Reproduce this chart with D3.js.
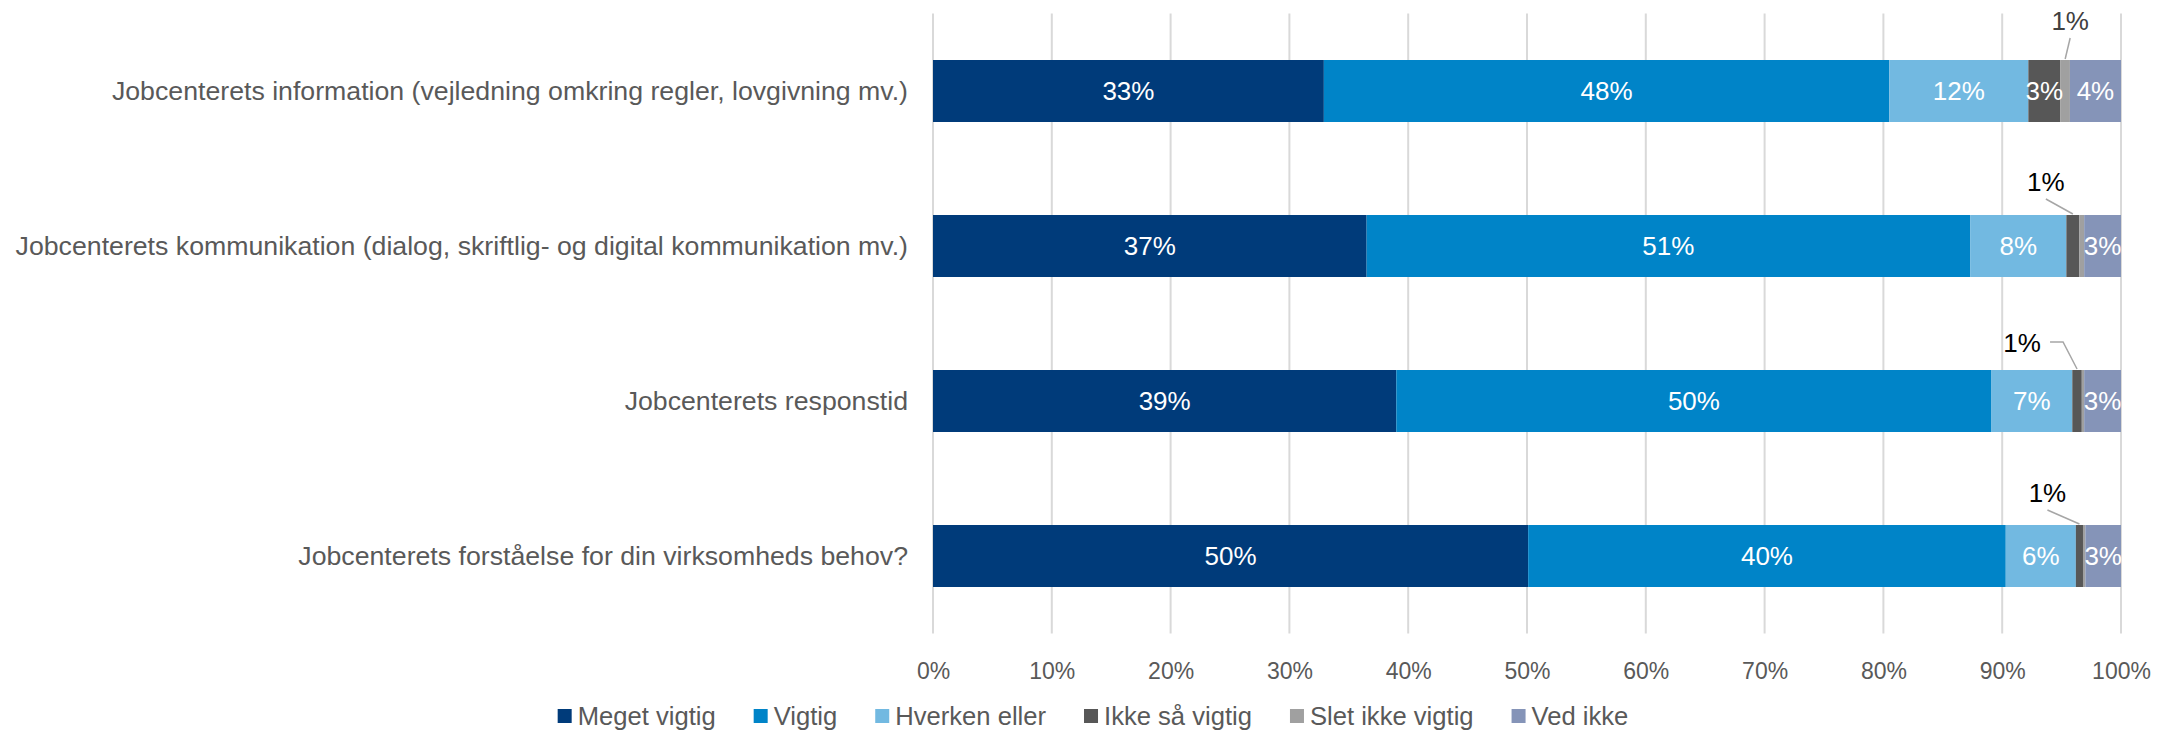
<!DOCTYPE html>
<html>
<head>
<meta charset="utf-8">
<script src="https://cdn.jsdelivr.net/npm/d3@7"></script>
<style>
  body { margin: 0; background: #fff; }
  text { font-family: "Liberation Sans", Arial, sans-serif; }
</style>
</head>
<body>
<div id="chart"></div>
<script>
// data (percent)
const categories = [
  "Jobcenterets information (vejledning omkring regler, lovgivning mv.)",
  "Jobcenterets kommunikation (dialog, skriftlig- og digital kommunikation mv.)",
  "Jobcenterets responstid",
  "Jobcenterets forståelse for din virksomheds behov?"
];
const seriesNames = ["Meget vigtig", "Vigtig", "Hverken eller", "Ikke så vigtig", "Slet ikke vigtig", "Ved ikke"];
const megetVigtig = [32.9, 36.5, 39.0, 50.1];
const vigtig      = [47.6, 50.8, 50.1, 40.2];
const hverken     = [11.7, 8.1, 6.8, 5.9];
const ikkeSaa     = [2.7, 1.1, 0.8, 0.6];
const sletIkke    = [0.8, 0.4, 0.2, 0.2];
const vedIkke     = [4.3, 3.1, 3.1, 3.0];
const xTicks = [0, 10, 20, 30, 40, 50, 60, 70, 80, 90, 100];

const colors = ["#003b7a", "#0084c8", "#72b9e1", "#575757", "#a0a0a0", "#8594b8"];
// where the small callout labels sit, relative to the segment (one per bar)
const calloutOffsets = [{dx: 5, dy: -39}, {dx: -27, dy: -33}, {dx: -55, dy: -27}, {dx: -32, dy: -32}];

const width = 2174, height = 730;
const series = [megetVigtig, vigtig, hverken, ikkeSaa, sletIkke, vedIkke];

// rows for d3.stack
const rows = categories.map(function (c, i) {
  const r = { cat: c };
  seriesNames.forEach(function (s, j) { r[s] = series[j][i]; });
  return r;
});
const stacked = d3.stack().keys(seriesNames)(rows);

const svg = d3.select("#chart").append("svg")
  .attr("width", width).attr("height", height);

const x = d3.scaleLinear().domain([0, 100]).range([933, 2121]);
const y = d3.scaleBand().domain(categories).range([13.5, 633.5])
  .paddingInner(0.6).paddingOuter(0.3);

// gridlines
svg.append("g").selectAll("line").data(xTicks).enter().append("line")
  .attr("x1", d => x(d)).attr("x2", d => x(d))
  .attr("y1", 13.5).attr("y2", 633.5)
  .attr("stroke", "#d9d9d9").attr("stroke-width", 2);

// x axis labels
const xAxis = d3.axisBottom(x).tickValues(xTicks).tickFormat(d => d + "%").tickSize(0).tickPadding(0);
const gx = svg.append("g").attr("transform", "translate(0,663)").call(xAxis);
gx.select(".domain").remove();
gx.selectAll("text").attr("font-size", 23).attr("fill", "#595959")
  .attr("font-family", "Liberation Sans, Arial, sans-serif");

// category labels
const yAxis = d3.axisLeft(y).tickSize(0).tickPadding(0);
const gy = svg.append("g").attr("transform", "translate(908,0)").call(yAxis);
gy.select(".domain").remove();
gy.selectAll("text").attr("font-size", 26.7).attr("fill", "#595959")
  .attr("font-family", "Liberation Sans, Arial, sans-serif");

// bars
const layers = svg.append("g").selectAll("g").data(stacked).enter().append("g")
  .attr("fill", (d, i) => colors[i]);
layers.selectAll("rect").data(d => d).enter().append("rect")
  .attr("x", d => x(d[0]))
  .attr("y", d => y(d.data.cat))
  .attr("width", d => x(d[1]) - x(d[0]))
  .attr("height", y.bandwidth());

// value labels
stacked.forEach(function (layer) {
  layer.forEach(function (d, i) {
    const v = d[1] - d[0];
    const lbl = Math.round(v);
    if (lbl === 0) return;
    const w = x(d[1]) - x(d[0]);
    const cx = (x(d[0]) + x(d[1])) / 2;
    const top = y(d.data.cat);
    if (w >= 20) {
      svg.append("text")
        .attr("x", cx).attr("y", top + y.bandwidth() / 2)
        .attr("text-anchor", "middle").attr("dominant-baseline", "central")
        .attr("font-size", 26).attr("fill", "#fff")
        .text(lbl + "%");
    } else {
      const o = calloutOffsets[i];
      const tx = cx + o.dx, ty = top + o.dy;
      svg.append("text")
        .attr("x", tx).attr("y", ty)
        .attr("text-anchor", "middle").attr("dominant-baseline", "central")
        .attr("font-size", 26).attr("fill", i === 0 ? "#404040" : "#000")
        .text(lbl + "%");
      let pts;
      if (o.dx < -40) {
        pts = [[tx + 28, ty - 1], [cx - 14, ty - 1], [cx, top - 1]];
      } else {
        pts = [[tx, ty + 17], [cx, top - 1]];
      }
      svg.append("path")
        .attr("d", d3.line()(pts))
        .attr("fill", "none").attr("stroke", "#a6a6a6").attr("stroke-width", 1.5);
    }
  });
});

// legend
const legend = svg.append("g");
let lx = 0;
seriesNames.forEach(function (s, i) {
  const g = legend.append("g").attr("transform", "translate(" + lx + ",0)");
  g.append("rect").attr("x", 0).attr("y", -7).attr("width", 14).attr("height", 14).attr("fill", colors[i]);
  const t = g.append("text").attr("x", 20).attr("y", 0)
    .attr("dominant-baseline", "central").attr("font-size", 25.6).attr("fill", "#595959").text(s);
  lx += 20 + t.node().getComputedTextLength() + 38;
});
const legendW = lx - 38;
legend.attr("transform", "translate(" + (1093 - legendW / 2) + ",716)");
</script>
</body>
</html>
